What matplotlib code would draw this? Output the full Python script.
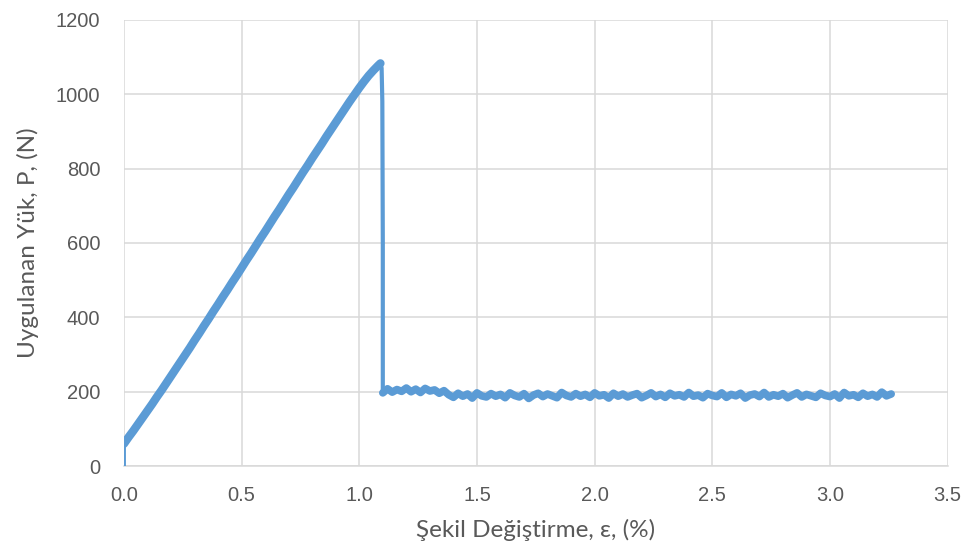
import matplotlib
matplotlib.use('agg')
import matplotlib.pyplot as plt
import numpy as np

# loading branch (strain %, load N)
rise_strain = [0.00, 0.00, 0.02, 0.04, 0.06, 0.08, 0.10, 0.12, 0.14, 0.16, 0.18,
               0.20, 0.22, 0.24, 0.26, 0.28, 0.30, 0.32, 0.34, 0.36, 0.38,
               0.40, 0.42, 0.44, 0.46, 0.48, 0.50, 0.52, 0.54, 0.56, 0.58,
               0.60, 0.62, 0.64, 0.66, 0.68, 0.70, 0.72, 0.74, 0.76, 0.78,
               0.80, 0.82, 0.84, 0.86, 0.88, 0.90, 0.92, 0.94, 0.96, 0.98,
               1.00, 1.02, 1.04, 1.06, 1.08, 1.09]
rise_load = [0, 60, 78, 95, 113, 131, 149, 167, 186, 204, 223,
             242, 261, 280, 299, 318, 338, 357, 377, 396, 416,
             435, 455, 474, 494, 513, 533, 553, 572, 592, 612,
             631, 651, 671, 690, 710, 730, 749, 769, 789, 808,
             828, 847, 866, 886, 905, 924, 943, 962, 981, 999,
             1017, 1034, 1050, 1064, 1077, 1083]

# sudden failure
drop_strain = [1.09, 1.095, 1.098, 1.10, 1.10]
drop_load = [1083, 1070, 980, 600, 200]

# residual plateau after failure
plat_strain = [1.10, 1.12, 1.14, 1.16, 1.18, 1.20, 1.22, 1.24, 1.26, 1.28, 1.30, 1.32, 1.34, 1.36,
               1.38, 1.40, 1.42, 1.44, 1.46, 1.48, 1.50, 1.52, 1.54, 1.56,
               1.58, 1.60, 1.62, 1.64, 1.66, 1.68, 1.70, 1.72, 1.74, 1.76,
               1.78, 1.80, 1.82, 1.84, 1.86, 1.88, 1.90, 1.92, 1.94, 1.96,
               1.98, 2.00, 2.02, 2.04, 2.06, 2.08, 2.10, 2.12, 2.14, 2.16,
               2.18, 2.20, 2.22, 2.24, 2.26, 2.28, 2.30, 2.32, 2.34, 2.36,
               2.38, 2.40, 2.42, 2.44, 2.46, 2.48, 2.50, 2.52, 2.54, 2.56,
               2.58, 2.60, 2.62, 2.64, 2.66, 2.68, 2.70, 2.72, 2.74, 2.76,
               2.78, 2.80, 2.82, 2.84, 2.86, 2.88, 2.90, 2.92, 2.94, 2.96,
               2.98, 3.00, 3.02, 3.04, 3.06, 3.08, 3.10, 3.12, 3.14, 3.16,
               3.18, 3.20, 3.22, 3.24, 3.26]
plat_load = [197, 208, 199, 206, 201, 210, 200, 207, 198, 209, 202, 205, 196, 203,
             192, 185, 196, 188, 194, 183, 197, 189, 186, 195,
             188, 193, 184, 197, 190, 186, 195, 182, 191, 196,
             187, 194, 189, 184, 198, 190, 186, 195, 188, 193,
             185, 197, 189, 192, 183, 196, 188, 194, 186, 191,
             195, 184, 190, 197, 187, 193, 185, 196, 189, 192,
             186, 198, 188, 191, 184, 195, 190, 187, 197, 185,
             193, 189, 196, 183, 191, 194, 187, 198, 186, 192,
             188, 195, 184, 191, 197, 186, 193, 189, 185, 196,
             190, 187, 194, 183, 198, 189, 192, 185, 196, 188,
             193, 186, 199, 189, 194]

blue = '#5B9BD5'
grey = '#595959'

fig = plt.figure(figsize=(9.68, 5.51), dpi=100)
ax = fig.add_axes([0.128, 0.154, 0.851, 0.810])

ax.plot(rise_strain[:2], rise_load[:2], color=blue, linewidth=2.8, zorder=3)
ax.plot(rise_strain[1:], rise_load[1:], color=blue, linewidth=6, solid_capstyle='round',
        solid_joinstyle='round', zorder=3)
ax.plot(drop_strain, drop_load, color=blue, linewidth=3, zorder=3)
ax.plot(plat_strain, plat_load, color=blue, linewidth=5.5, solid_capstyle='round',
        solid_joinstyle='round', zorder=3)

ax.set_xlim(0, 3.5)
ax.set_ylim(0, 1200)
xt = np.arange(0, 3.51, 0.5)
ax.set_xticks(xt)
ax.set_xticklabels(['%.1f' % v for v in xt])
ax.set_yticks(np.arange(0, 1201, 200))

ax.grid(True, color='#D9D9D9', linewidth=1.1, zorder=0)
ax.set_axisbelow(True)
for s in ['top', 'right', 'left']:
    ax.spines[s].set_visible(False)
ax.spines['bottom'].set_color('#D9D9D9')
ax.spines['bottom'].set_linewidth(1.1)
ax.tick_params(length=0, labelsize=14.5, labelcolor=grey)
ax.tick_params(axis='y', pad=17)
ax.tick_params(axis='x', pad=14)
for lab in ax.get_xticklabels() + ax.get_yticklabels():
    lab.set_family('Liberation Sans')

ax.set_xlabel('Şekil Değiştirme, ε, (%)', family='Lato', fontsize=17.5, color=grey, labelpad=10)
ax.set_ylabel('Uygulanan Yük, P, (N)', family='Lato', fontsize=17.5, color=grey, labelpad=12)

plt.savefig('out.png', dpi=100)
plt.close()
